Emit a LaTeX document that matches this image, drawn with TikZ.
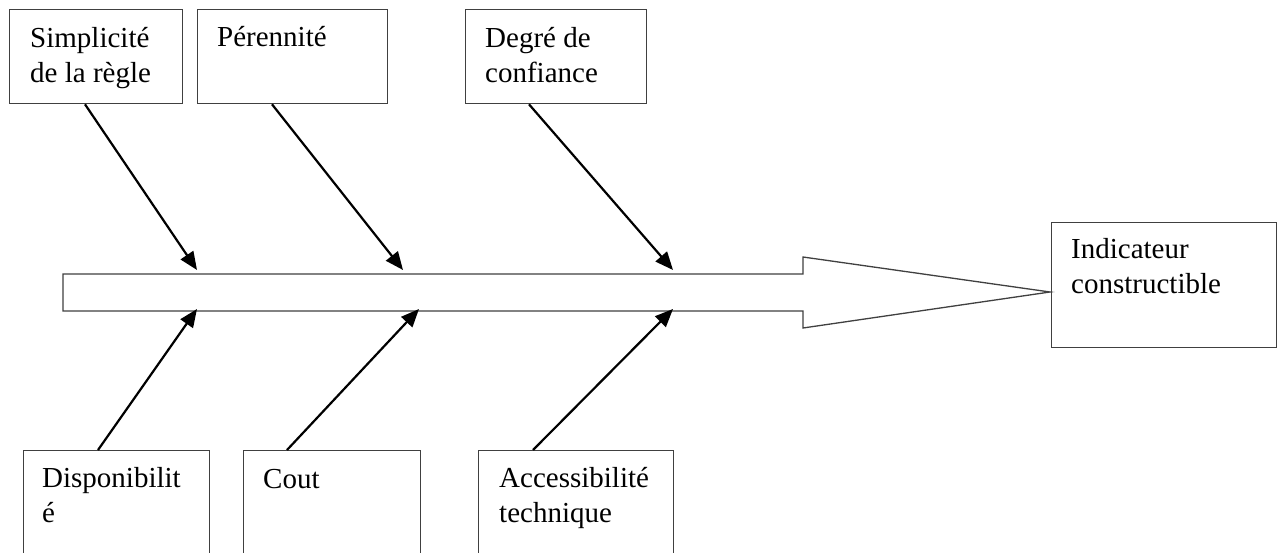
\documentclass[tikz,border=0pt]{standalone}
\usepackage{fontspec}
\setmainfont{Liberation Serif}
\usetikzlibrary{arrows.meta}
\begin{document}
\begin{tikzpicture}[x=1pt,y=-1pt,
  factorbox/.style={draw=black!75,line width=1.3pt,rectangle,inner sep=0pt,anchor=north west},
  label/.style={anchor=base west,inner sep=0pt,align=left,font=\fontsize{29}{35}\selectfont},
  cause/.style={line width=2.2pt,-{Triangle[length=18pt,width=15pt]}}]
\clip (0,0) rectangle (1277,553);
\fill[white] (0,0) rectangle (1277,553);

% factor boxes
\node[factorbox,minimum width=173pt,minimum height=94pt] (b1) at (9,9) {};
\node[factorbox,minimum width=190pt,minimum height=94pt] (b2) at (197,9) {};
\node[factorbox,minimum width=181pt,minimum height=94pt] (b3) at (465,9) {};
\node[factorbox,minimum width=186pt,minimum height=120pt] (b4) at (23,450) {};
\node[factorbox,minimum width=177pt,minimum height=120pt] (b5) at (243,450) {};
\node[factorbox,minimum width=195pt,minimum height=120pt] (b6) at (478,450) {};
\node[factorbox,minimum width=225pt,minimum height=125pt] (b7) at (1051,222) {};

% box texts (anchored on the baseline of the last line)
\node[label] (t1) at (30,83) {Simplicité\\de la règle};
\node[label] (t2) at (217,47) {Pérennité};
\node[label] (t3) at (485,83) {Degré de\\confiance};
\node[label] (t4) at (42,522) {Disponibilit\\é};
\node[label] (t5) at (263,488) {Cout};
\node[label] (t6) at (499,522) {Accessibilité\\technique};
\node[label] (t7) at (1071,294) {Indicateur\\constructible};

% main spine
\draw[draw=black!75,line width=1.3pt,fill=white]
  (63,274) -- (803,274) -- (803,257) -- (1050,292) -- (803,328)
  -- (803,311) -- (63,311) -- cycle;

% landing points on the spine
\coordinate (p1) at (197,270);
\coordinate (p2) at (403,270);
\coordinate (p3) at (673,270);
\coordinate (p4) at (197,309);
\coordinate (p5) at (419,309);
\coordinate (p6) at (673,309);

% cause arrows
\draw[cause] ([xshift=76pt]b1.south west) -- (p1);
\draw[cause] ([xshift=75pt]b2.south west) -- (p2);
\draw[cause] ([xshift=64pt]b3.south west) -- (p3);
\draw[cause] ([xshift=75pt]b4.north west) -- (p4);
\draw[cause] ([xshift=44pt]b5.north west) -- (p5);
\draw[cause] ([xshift=55pt]b6.north west) -- (p6);
\end{tikzpicture}
\end{document}
